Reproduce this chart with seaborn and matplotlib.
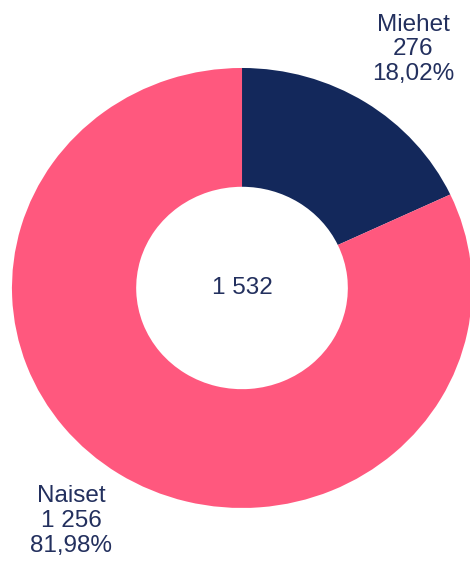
import matplotlib
matplotlib.use("Agg")
import matplotlib.pyplot as plt
import seaborn as sns

categories = ["Miehet", "Naiset"]
counts = [276, 1256]
count_labels = ["276", "1 256"]
pct_labels = ["18,02%", "81,98%"]
total_label = "1 532"

sns.set_theme(style="white")
plt.rcParams["font.family"] = ["Liberation Sans", "DejaVu Sans"]

colors = ["#13285B", "#FF587E"]
text_color = "#23305E"

fig = plt.figure(figsize=(4.70, 5.61), dpi=100)
ax = fig.add_axes([0, 0, 1, 1])

ax.pie(counts, colors=colors, startangle=90, counterclock=False,
       radius=1.0, wedgeprops=dict(width=0.54, edgecolor="none"))

# pie sets equal aspect; the reference is a bit wider than tall
ax.set_aspect("auto")
ax.set_xlim(-1.052, 0.991)
ax.set_ylim(-1.241, 1.309)
ax.axis("off")

# labels outside the ring
label_pos = [(0.743, 1.086), (-0.743, -1.059)]
for name, c, p, (x, y) in zip(categories, count_labels, pct_labels, label_pos):
    ax.text(x, y, f"{name}\n{c}\n{p}", ha="center", va="center",
            fontsize=17.5, color=text_color, linespacing=1.15)

ax.text(0, 0, total_label, ha="center", va="center", fontsize=17.5, color=text_color)

fig.savefig("out.png", dpi=100, facecolor="white")
